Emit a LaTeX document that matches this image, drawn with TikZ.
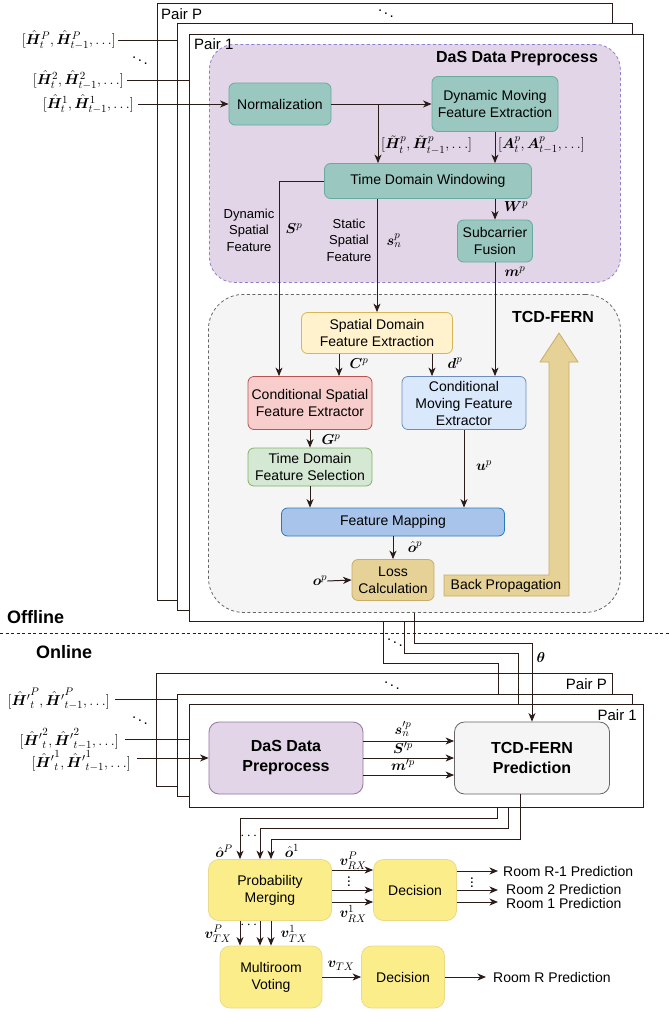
\documentclass[tikz,border=0pt]{standalone}
\usepackage{amsmath}
\usepackage{bm}
\usepackage{fontspec}
\setmainfont{Liberation Sans}
\usetikzlibrary{arrows.meta}

\definecolor{ink}{HTML}{2A1C18}
\definecolor{tealF}{HTML}{9AC7BF}
\definecolor{tealD}{HTML}{67AB9F}
\definecolor{dasF}{HTML}{E1D5E7}
\definecolor{dasD}{HTML}{8E80CC}
\definecolor{dasOD}{HTML}{9673A6}
\definecolor{greyF}{HTML}{F5F5F5}
\definecolor{greyD}{HTML}{666666}
\definecolor{yelF}{HTML}{FFF2CC}
\definecolor{yelD}{HTML}{D6B656}
\definecolor{redF}{HTML}{F8CECC}
\definecolor{redD}{HTML}{B85450}
\definecolor{bluF}{HTML}{DAE8FC}
\definecolor{bluD}{HTML}{6C8EBF}
\definecolor{grnF}{HTML}{D5E8D4}
\definecolor{grnD}{HTML}{82B366}
\definecolor{mapF}{HTML}{A9C4EB}
\definecolor{mapD}{HTML}{2B7BB9}
\definecolor{tanF}{HTML}{E6D196}
\definecolor{tanD}{HTML}{C9AC66}
\definecolor{sunF}{HTML}{FBEE8A}
\definecolor{sunD}{HTML}{EBD98A}

\newcommand\fsz[2]{\fontsize{#1}{#2}\selectfont}
% bold hat-H with a prime, kept as one ordinary atom (the empty group stops
% TeX from collapsing the accent atom, so further scripts can be attached)
\newcommand\Hp{\mathord{{}\bm{\hat{H}}^{\prime}}}

\begin{document}
\begin{tikzpicture}[x=1pt,y=-1pt,
  ln/.style={draw=ink,line width=1pt},
  arr/.style={ln,-{Stealth[length=8.5pt,width=7pt,inset=2.5pt]}},
  pairframe/.style={draw=ink,line width=1pt,fill=white,inner sep=0pt,anchor=north west},
  box/.style={rounded corners=6pt,line width=0.8pt,align=center,inner sep=1pt,font=\fsz{14}{17}},
  bigbox/.style={box,rounded corners=10pt},
  tealbox/.style={box,fill=tealF,draw=tealD},
  yelbox/.style={box,fill=yelF,draw=yelD},
  redbox/.style={box,fill=redF,draw=redD},
  blubox/.style={box,fill=bluF,draw=bluD},
  grnbox/.style={box,fill=grnF,draw=grnD},
  mapbox/.style={box,fill=mapF,draw=mapD},
  tanbox/.style={box,fill=tanF,draw=tanD},
  sunbox/.style={bigbox,fill=sunF,draw=sunD},
  dasreg/.style={fill=dasF,draw=dasD,dash pattern=on 3pt off 2.5pt,line width=0.8pt,rounded corners=25pt,inner sep=0pt,anchor=north west},
  tcdreg/.style={fill=greyF,draw=greyD,dash pattern=on 3pt off 2.5pt,line width=0.8pt,rounded corners=35pt,inner sep=0pt,anchor=north west},
  lbl/.style={inner sep=0pt,align=center,font=\fsz{13}{16.5}},
  mth/.style={inner sep=0pt,font=\fsz{15}{17}},
  txt/.style={inner sep=0pt,font=\fsz{14}{17}},
  ttl/.style={inner sep=0pt,align=center,font=\bfseries\fsz{16}{19}},
  pairlbl/.style={inner sep=0pt,font=\fsz{15}{18}},
]
\useasboundingbox (0,0) rectangle (669,1012);

% ---------------- offline stage: stacked pair frames ----------------
\node[pairframe,minimum width=455pt,minimum height=597pt] (tP) at (157,3) {};
\node[pairlbl,anchor=west] (tPl) at (161,14) {Pair P};
\node[mth] (tdots) at (386,11) {$\ddots$};
\node[pairframe,minimum width=455pt,minimum height=587pt] (t2) at (177,23) {};
\node[pairframe,minimum width=454pt,minimum height=587pt] (t1) at (189,34) {};

% preprocessing and network regions
\node[dasreg,minimum width=411pt,minimum height=238pt] (dasr) at (209,44) {};
\node[ttl] (dast) at (517,59) {DaS Data Preprocess};
\node[pairlbl,anchor=west] (t1l) at (194,44) {Pair 1};
\node[tcdreg,minimum width=412pt,minimum height=318pt] (tcdr) at (208,294) {};
\node[ttl] (tcdt) at (553,317) {TCD-FERN};

% CSI inputs
\node[mth,anchor=east] (inP) at (116,40) {$[\bm{\hat{H}}_t^P,\bm{\hat{H}}_{t-1}^P,\ldots]$};
\node[mth] (indots) at (140,58) {$\ddots$};
\node[mth,anchor=east] (in2) at (124,80) {$[\bm{\hat{H}}_t^2,\bm{\hat{H}}_{t-1}^2,\ldots]$};
\node[mth,anchor=east] (in1) at (134,104) {$[\bm{\hat{H}}_t^1,\bm{\hat{H}}_{t-1}^1,\ldots]$};

% preprocessing blocks
\node[tealbox,minimum width=102pt,minimum height=42pt] (norm) at (280,104) {Normalization};
\node[tealbox,minimum width=126pt,minimum height=55pt] (dmfe) at (495,104) {Dynamic Moving\\Feature Extraction};
\node[tealbox,minimum width=207pt,minimum height=35pt] (tdw) at (428,181) {Time Domain Windowing};
\node[tealbox,minimum width=75pt,minimum height=42pt] (sf) at (495,241) {Subcarrier\\Fusion};

% network blocks
\node[yelbox,minimum width=151pt,minimum height=41pt] (sdfe) at (377,333) {Spatial Domain\\Feature Extraction};
\node[redbox,minimum width=124pt,minimum height=53pt] (csfe) at (310,403) {Conditional Spatial\\Feature Extractor};
\node[blubox,minimum width=124pt,minimum height=53pt] (cmfe) at (464,403) {Conditional\\Moving Feature\\Extractor};
\node[grnbox,minimum width=124pt,minimum height=38pt] (tdfs) at (310,467) {Time Domain\\Feature Selection};
\node[mapbox,minimum width=223pt,minimum height=28pt] (fm) at (393,522) {Feature Mapping};
\node[tanbox,minimum width=82pt,minimum height=41pt] (loss) at (393,580) {Loss\\Calculation};

% back-propagation arrow
\draw[fill=tanF,draw=tanD,line width=0.8pt] (444,575) -- (549,575) -- (549,362) -- (540,362)
  -- (559,333) -- (578,362) -- (569,362) -- (569,596) -- (444,596) -- cycle;
\node[txt] (bp) at (506,586) {Back Propagation};

% input connectors
\draw[ln] ([xshift=2pt]inP.east) -- (t2.west |- inP.east);
\draw[ln] ([xshift=3pt]in2.east) -- (t1.west |- in2.east);
\draw[arr] ([xshift=4pt]in1.east) -- (norm.west);

% preprocessing connectors
\draw[arr] (norm.east) -- (dmfe.west);
\coordinate (hsplit) at (378,104);
\draw[arr] (hsplit) -- (hsplit |- tdw.north);
\node[mth,anchor=west] (htl) at (381,145) {$[\bm{\tilde{H}}_t^p,\bm{\tilde{H}}_{t-1}^p,\ldots]$};
\draw[arr] (dmfe.south) -- (dmfe.south |- tdw.north);
\node[mth,anchor=west] (atl) at (498,145) {$[\bm{A}_t^p,\bm{A}_{t-1}^p,\ldots]$};
\draw[arr] (tdw.south -| sf.north) -- (sf.north);
\node[mth] (wl) at (516,207) {$\bm{W}^p$};

% features into the network
\draw[arr] (tdw.west) -| ([xshift=-31pt]csfe.north);
\node[lbl] (dsf) at (249,230) {Dynamic\\Spatial\\Feature};
\node[mth] (sl) at (294,229) {$\bm{S}^p$};
\draw[arr] (sdfe.north |- tdw.south) -- (sdfe.north);
\node[lbl] (ssf) at (349,240) {Static\\Spatial\\Feature};
\node[mth] (snl) at (394,241) {$\bm{s}_n^p$};
\draw[arr] (sf.south) -- (sf.south |- cmfe.north);
\node[mth] (ml) at (515,272) {$\bm{m}^p$};

% network connectors
\draw[arr] ([xshift=-38pt]sdfe.south) -- ([xshift=-38pt]sdfe.south |- csfe.north);
\node[mth] (cl) at (359,364) {$\bm{C}^p$};
\draw[arr] ([xshift=55pt]sdfe.south) -- ([xshift=55pt]sdfe.south |- cmfe.north);
\node[mth] (dl) at (455,363) {$\bm{d}^p$};
\draw[arr] (csfe.south) -- (tdfs.north);
\node[mth] (gl) at (331,440) {$\bm{G}^p$};
\draw[arr] (tdfs.south) -- (tdfs.south |- fm.north);
\draw[arr] (cmfe.south) -- (cmfe.south |- fm.north);
\node[mth] (ul) at (484,466) {$\bm{u}^p$};
\draw[arr] (fm.south) -- (loss.north);
\node[mth] (ohl) at (415,547) {$\bm{\hat{o}}^p$};
\node[mth] (ol) at (320,581) {$\bm{o}^p$};
\draw[arr] (ol.east) -- (loss.west);

% ---------------- offline / online separation ----------------
\coordinate (sepL) at (0,633);
\coordinate (sepR) at (669,633);
\draw[ln,dash pattern=on 3pt off 2.5pt] (sepL) -- (sepR);
\node[inner sep=0pt,anchor=west,font=\bfseries\fsz{18}{21}] (offl) at (7,617) {Offline};
\node[inner sep=0pt,anchor=west,font=\bfseries\fsz{18}{21}] (onl) at (36,652) {Online};

% ---------------- online stage ----------------
\node[pairframe,minimum width=456pt,minimum height=113pt] (bP) at (156,673) {};
\node[pairlbl,anchor=east] (bPl) at (607,684) {Pair P};
\node[pairframe,minimum width=455pt,minimum height=102pt] (b2) at (177,694) {};
\node[pairframe,minimum width=454pt,minimum height=103pt] (b1) at (189,704) {};
\node[pairlbl,anchor=east] (b1l) at (637,715) {Pair 1};

% trained parameters handed over to each pair
\coordinate (oP) at (383,621);
\coordinate (o2) at (404,621);
\coordinate (kP) at (498,663);
\coordinate (k2) at (518,653);
\coordinate (k1) at (532,643);
\draw[ln] (oP) |- (kP) -- (kP |- b2.north);
\draw[ln] (o2) |- (k2) -- (k2 |- b1.north);
\node[mth] (odots) at (395,640) {$\ddots$};
\node[mth] (odots2) at (392,683) {$\ddots$};

\node[bigbox,fill=dasF,draw=dasOD,font=\bfseries\fsz{16}{20},minimum width=154pt,minimum height=72pt] (dasp) at (286,758) {DaS Data\\Preprocess};
\node[bigbox,fill=greyF,draw=greyD,font=\bfseries\fsz{16}{20},minimum width=155pt,minimum height=72pt] (tcdp) at (532,758) {TCD-FERN\\Prediction};
\draw[arr] (tcdr.south) |- (k1) -- (tcdp.north);
\node[mth] (thl) at (541,657) {$\bm{\theta}$};

% online inputs
\node[mth,anchor=east] (jP) at (110,699) {$[\Hp^{P}_{t},\Hp^{P}_{t-1},\ldots]$};
\node[mth] (jdots) at (140,718) {$\ddots$};
\node[mth,anchor=east] (j2) at (119,739) {$[\Hp^{2}_{t},\Hp^{2}_{t-1},\ldots]$};
\node[mth,anchor=east] (j1) at (131,761) {$[\Hp^{1}_{t},\Hp^{1}_{t-1},\ldots]$};
\draw[ln] ([xshift=5pt]jP.east) -- (b2.west |- jP.east);
\draw[ln] ([xshift=6pt]j2.east) -- (b1.west |- j2.east);
\draw[arr] ([xshift=6pt]j1.east |- dasp.west) -- (dasp.west);

% preprocessed features into prediction
\draw[arr] ([yshift=17pt]dasp.east) -- ([yshift=17pt]tcdp.west);
\draw[arr] (dasp.east) -- (tcdp.west);
\draw[arr] ([yshift=-17pt]dasp.east) -- ([yshift=-17pt]tcdp.west);
\node[mth] (spl) at (403,729) {$\bm{s}^{\prime p}_{n}$};
\node[mth] (Spl) at (403,748) {$\bm{S}^{\prime p}$};
\node[mth] (mpl) at (403,765) {$\bm{m}^{\prime p}$};

% ---------------- decision stage ----------------
\node[sunbox,minimum width=123pt,minimum height=61pt] (pm) at (270,890) {Probability\\Merging};
\node[sunbox,minimum width=83pt,minimum height=61pt] (dec1) at (415,890) {Decision};
\node[sunbox,minimum width=102pt,minimum height=62pt] (mv) at (271,977) {Multiroom\\Voting};
\node[sunbox,minimum width=83pt,minimum height=62pt] (dec2) at (403,977) {Decision};

\coordinate (qP) at (497,818);
\coordinate (q2) at (508,828);
\coordinate (q1) at (520,839);
\draw[arr] (b1.south -| qP) -- (qP) -| ([xshift=-30pt]pm.north);
\draw[arr] (b1.south -| q2) -- (q2) -| ([xshift=-10pt]pm.north);
\draw[arr] (tcdp.south -| q1) -- (q1) -| ([xshift=1pt]pm.north);
\node[mth] (oPl) at (224,851) {$\bm{\hat{o}}^P$};
\node[mth] (odl) at (250,836) {$\cdots$};
\node[mth] (o1l) at (292,851) {$\bm{\hat{o}}^1$};

\draw[arr] ([yshift=20pt]pm.east) -- ([yshift=20pt]dec1.west);
\draw[arr] (pm.east) -- (dec1.west);
\draw[arr] ([yshift=-12pt]pm.east) -- ([yshift=-12pt]dec1.west);
\node[mth] (vrPl) at (353,861) {$\bm{v}_{RX}^P$};
\node[mth] (vrdl) at (349,879) {$\vdots$};
\node[mth] (vr1l) at (353,914) {$\bm{v}_{RX}^1$};

\node[txt,anchor=west] (r1) at (503,871) {Room R-1 Prediction};
\node[txt,anchor=west] (r2) at (506,889) {Room 2 Prediction};
\node[txt,anchor=west] (r0) at (506,903) {Room 1 Prediction};
\coordinate (d1a) at ([yshift=19pt]dec1.east);
\coordinate (d1c) at ([yshift=-12pt]dec1.east);
\draw[arr] (d1a) -- ([xshift=-5pt]r1.west |- d1a);
\draw[arr] (dec1.east) -- ([xshift=-8pt]r2.west |- dec1.east);
\draw[arr] (d1c) -- ([xshift=-8pt]r0.west |- d1c);
\node[mth] (rdl) at (472,880) {$\vdots$};

\draw[arr] ([xshift=-30pt]pm.south) -- ([xshift=-30pt]pm.south |- mv.north);
\draw[arr] ([xshift=-10pt]pm.south) -- ([xshift=-10pt]pm.south |- mv.north);
\draw[arr] ([xshift=1pt]pm.south) -- ([xshift=1pt]pm.south |- mv.north);
\node[mth] (vtPl) at (218,934) {$\bm{v}_{TX}^P$};
\node[mth] (vtdl) at (250,925) {$\cdots$};
\node[mth] (vt1l) at (294,934) {$\bm{v}_{TX}^1$};

\draw[arr] (mv.east) -- (dec2.west);
\node[mth] (vtl) at (341,966) {$\bm{v}_{TX}$};
\node[txt,anchor=west] (rR) at (493,977) {Room R Prediction};
\draw[arr] (dec2.east) -- ([xshift=-7pt]rR.west);
\end{tikzpicture}
\end{document}
